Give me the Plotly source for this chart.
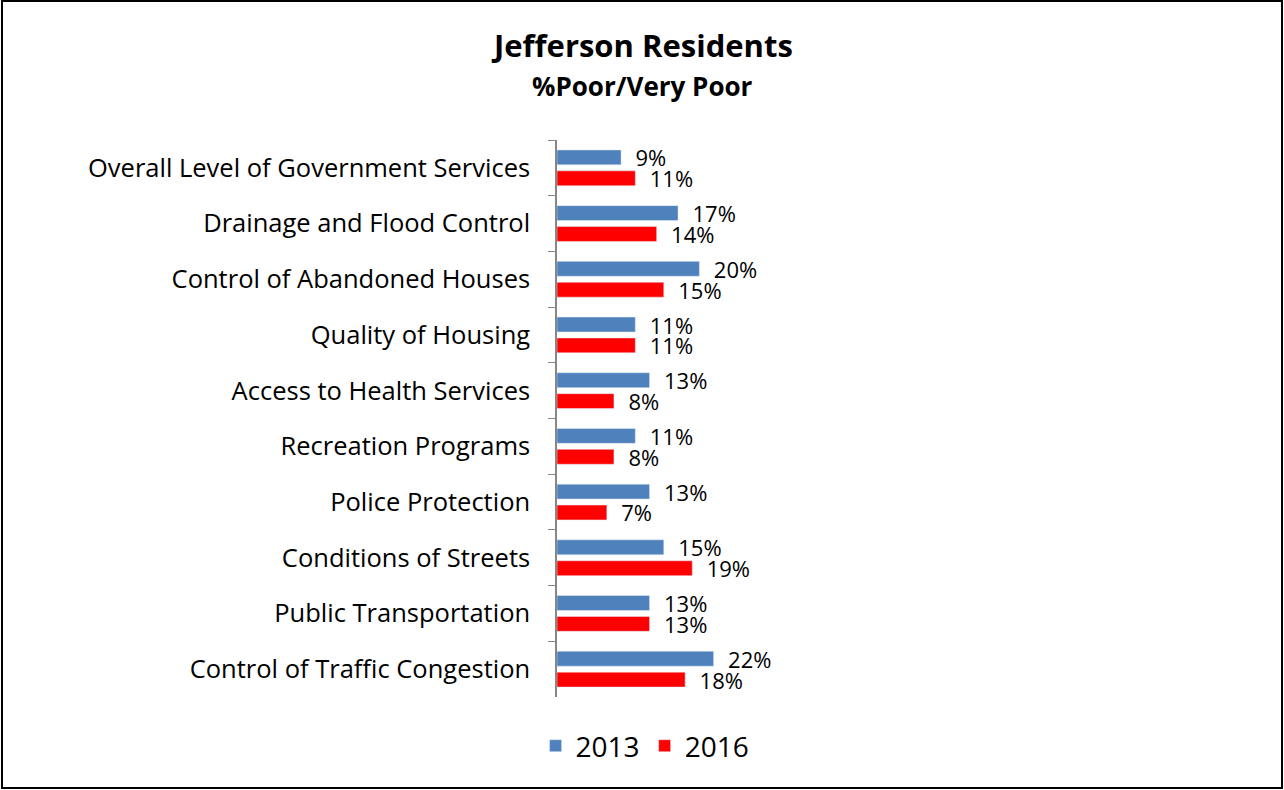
import plotly.graph_objects as go

categories = ['Overall Level of Government Services', 'Drainage and Flood Control',
              'Control of Abandoned Houses', 'Quality of Housing', 'Access to Health Services',
              'Recreation Programs', 'Police Protection', 'Conditions of Streets',
              'Public Transportation', 'Control of Traffic Congestion']
vals_2013 = [9, 17, 20, 11, 13, 11, 13, 15, 13, 22]
vals_2016 = [11, 14, 15, 11, 8, 8, 7, 19, 13, 18]

FONT = 'Open Sans, Liberation Sans, Arial, sans-serif'
NB = '\u00a0'

fig = go.Figure()
fig.add_trace(go.Bar(y=categories, x=vals_2013, name='2013', orientation='h',
                     marker_color='#4F81BD', texttemplate=NB * 2 + '%{x}%',
                     textposition='outside', constraintext='none', cliponaxis=False,
                     textfont=dict(size=22, color='black')))
fig.add_trace(go.Bar(y=categories, x=vals_2016, name='2016', orientation='h',
                     marker_color='#FF0000', texttemplate=NB * 2 + '%{x}%',
                     textposition='outside', constraintext='none', cliponaxis=False,
                     textfont=dict(size=22, color='black')))

# legend placed right of x=1 so plotly lets it use more than the narrow plot width
fig.update_layout(
    width=1284, height=790,
    margin=dict(l=557, r=549, t=140, b=93, autoexpand=False),
    paper_bgcolor='white', plot_bgcolor='white',
    font=dict(family=FONT, color='black'),
    barmode='group', bargap=0.25, bargroupgap=0.286,
    showlegend=True,
    legend=dict(orientation='h', x=1.11, xanchor='right', y=-0.088, yanchor='middle',
                font=dict(size=28), itemwidth=30, bgcolor='rgba(0,0,0,0)'),
    annotations=[
        dict(text='<b>Jefferson Residents</b>', x=0.478, y=1.1706, xref='paper', yref='paper',
             xanchor='center', yanchor='middle', showarrow=False, font=dict(size=31)),
        dict(text='<b>%Poor/Very Poor</b>', x=0.478, y=1.097, xref='paper', yref='paper',
             xanchor='center', yanchor='middle', showarrow=False, font=dict(size=26)),
    ],
    shapes=[dict(type='rect', xref='paper', yref='paper', x0=-3.118, x1=4.073,
                 y0=-0.1634, y1=1.2496, line=dict(color='black', width=2))],
)
fig.update_xaxes(range=[0, 25], visible=False)
fig.update_yaxes(autorange='reversed', showline=True, linecolor='#868686', linewidth=1.5,
                 ticks='outside', tickson='boundaries', ticklen=7, tickcolor='#868686',
                 ticklabelstandoff=20, tickfont=dict(size=25.5), showgrid=False)

fig.write_html('out.html', config={'displayModeBar': False},
               post_script="document.body.style.margin='0';")
